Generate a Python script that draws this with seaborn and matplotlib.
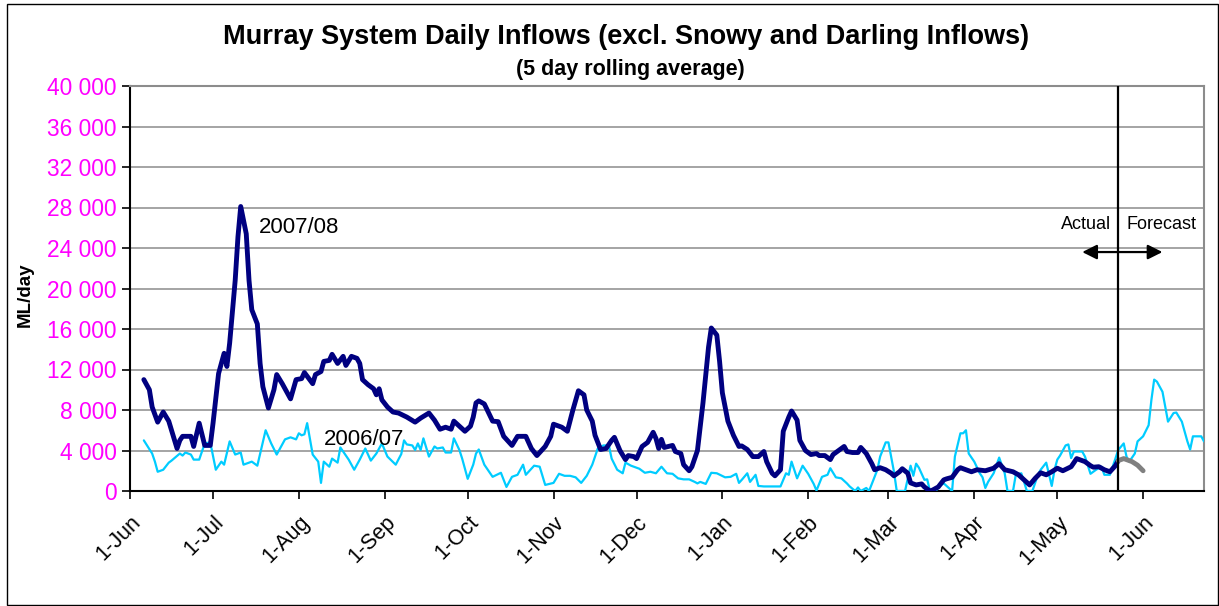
import numpy as np
import pandas as pd
import matplotlib
matplotlib.use("Agg")
import matplotlib.pyplot as plt
import matplotlib.dates as mdates
import seaborn as sns

# Murray System daily inflows - 5 day rolling average, 2007/08 vs 2006/07
# x positions are days after 1-Jun (both seasons drawn on the same date axis)

START = pd.Timestamp("2007-06-01")

days_0708 = [5, 7, 8, 10, 12, 14, 17, 18, 19, 22, 23, 25, 27, 29, 30, 32, 34, 35, 36, 38,
             39, 40, 42, 43, 44, 46, 47, 48, 50, 52, 53, 55, 58, 60, 62, 63, 66, 67, 69, 70,
             72, 73, 75, 77, 78, 80, 82, 83, 84, 86, 88, 89, 90, 91, 93, 95, 97, 100, 103, 105,
             108, 110, 112, 114, 116, 117, 119, 121, 123, 124, 125, 126, 128, 131, 133, 135, 138, 140, 143, 145,
             147, 150, 152, 153, 156, 158, 160, 162, 164, 165, 167, 168, 170, 172, 174, 175, 177, 179, 180, 182,
             183, 185, 187, 189, 190, 191, 192, 193, 196, 197, 199, 200, 202, 203, 205, 207, 209, 210, 212, 213,
             214, 216, 218, 220, 221, 223, 225, 227, 229, 230, 232, 233, 235, 236, 238, 239, 241, 242, 244, 246,
             248, 249, 251, 253, 254, 256, 258, 259, 261, 263, 264, 266, 268, 269, 271, 273, 275, 276, 278, 279,
             281, 282, 284, 286, 287, 289, 290, 292, 294, 295, 297, 299, 300, 302, 304, 306, 309, 312, 314, 316,
             319, 321, 323, 325, 327, 329, 331, 333, 335, 337, 340, 342, 345, 347, 348, 350, 352, 354, 356, 357]
flow_0708 = [11000, 10000, 8300, 6800, 7800, 6900, 4200, 5000, 5400, 5400, 4400, 6700, 4500, 4500, 6700, 11600, 13600, 12300, 14600, 20800,
             25100, 28100, 25400, 20800, 17900, 16500, 12600, 10300, 8200, 10000, 11500, 10600, 9100, 11000, 11100, 11700, 10600, 11500, 11800, 12800,
             12900, 13500, 12600, 13300, 12400, 13300, 13100, 12600, 11000, 10500, 10100, 9500, 10100, 9000, 8300, 7800, 7700, 7300, 6800, 7200,
             7700, 7000, 6100, 6300, 6100, 6900, 6400, 5900, 6400, 7300, 8700, 8900, 8600, 6900, 6850, 5400, 4500, 5400, 5400, 4200,
             3500, 4400, 5400, 6600, 6300, 5900, 8000, 9900, 9500, 8000, 6900, 5500, 4100, 4200, 5000, 5300, 4000, 3100, 3500, 3400,
             3200, 4400, 4800, 5800, 5200, 4200, 5100, 4300, 4500, 3900, 3700, 2600, 2000, 2400, 4000, 8700, 14200, 16100, 15400, 12800,
             9700, 6900, 5500, 4400, 4450, 4100, 3400, 3400, 3900, 2900, 1750, 1500, 2100, 5900, 7300, 7900, 7000, 5000, 4000, 3600,
             3700, 3500, 3500, 3100, 3600, 4000, 4400, 3900, 3800, 3800, 4300, 3700, 2700, 2100, 2300, 2100, 1750, 1500, 1900, 2200,
             1750, 800, 600, 700, 400, 0, 100, 400, 1100, 1200, 1350, 2100, 2300, 2100, 1900, 2100, 2000, 2250, 2700, 2100,
             1900, 1600, 1100, 600, 1250, 1800, 1600, 1900, 2250, 2000, 2400, 3200, 2900, 2500, 2350, 2400, 2100, 1900, 2500, 3000]

# forecast tail of 2007/08 (grey)
days_fcst = [357, 359, 362, 364, 366]
flow_fcst = [3000, 3200, 2900, 2550, 2000]

days_0607 = [5, 8, 9, 10, 12, 14, 15, 18, 19, 20, 22, 23, 25, 27, 29, 31, 33, 34, 36, 38,
             40, 41, 44, 46, 49, 51, 53, 56, 58, 60, 61, 62, 63, 64, 66, 68, 69, 70, 72, 73,
             75, 76, 79, 81, 83, 85, 87, 89, 91, 93, 96, 98, 99, 100, 102, 103, 104, 105, 106, 108,
             110, 111, 113, 114, 116, 117, 119, 120, 122, 124, 125, 126, 128, 131, 134, 136, 138, 140, 142, 143,
             146, 148, 150, 153, 155, 157, 159, 161, 163, 165, 167, 169, 171, 173, 174, 176, 178, 179, 181, 184,
             186, 188, 190, 192, 194, 196, 198, 200, 202, 204, 205, 206, 208, 210, 212, 215, 217, 219, 220, 221,
             223, 224, 226, 227, 229, 235, 237, 238, 239, 241, 243, 245, 247, 248, 250, 252, 253, 255, 257, 259,
             260, 262, 263, 264, 266, 267, 270, 271, 273, 274, 276, 277, 280, 282, 283, 284, 285, 287, 288, 289,
             291, 293, 294, 297, 298, 300, 301, 302, 303, 305, 307, 308, 309, 310, 312, 314, 316, 317, 319, 320,
             322, 323, 324, 326, 328, 329, 331, 333, 334, 335, 336, 338, 339, 340, 341, 344, 345, 347, 349, 351,
             352, 354, 356, 357, 359, 360, 361, 363, 364, 366, 368, 369, 370, 371, 373, 375, 377, 378, 380, 382,
             383, 384, 387, 388]
flow_0607 = [5000, 3700, 2900, 1900, 2100, 2800, 3000, 3700, 3500, 3800, 3600, 3100, 3100, 4700, 4800, 2100, 2900, 2600, 4900, 3600,
             3800, 2600, 2900, 2500, 6000, 4700, 3600, 5100, 5300, 5100, 5700, 5500, 5600, 6700, 3600, 2900, 800, 2900, 2400, 3200,
             2800, 4300, 3100, 2100, 3100, 4200, 3000, 3700, 4700, 3400, 2600, 3650, 5000, 4600, 4500, 4050, 4700, 4050, 5200, 3400,
             4400, 4200, 4300, 3800, 3800, 5200, 4050, 3200, 1200, 2600, 3700, 4100, 2600, 1400, 1800, 400, 1400, 1600, 2600, 1600,
             2500, 2400, 600, 800, 1700, 1500, 1500, 1350, 800, 1500, 2600, 4200, 4500, 4500, 3200, 2100, 1750, 2800, 2500, 2200,
             1800, 1900, 1750, 2400, 1750, 1700, 1250, 1150, 1150, 900, 750, 900, 700, 1800, 1750, 1350, 1400, 1700, 800, 1100,
             1750, 900, 1600, 500, 450, 450, 1750, 1600, 2900, 1250, 2500, 1700, 700, 50, 1400, 1600, 2250, 1350, 1250, 750,
             450, 0, 350, 0, 300, 0, 2100, 3400, 4800, 4800, 1900, 0, 0, 2500, 1500, 2700, 2300, 1100, 1150, 0,
             0, 600, 750, 0, 3400, 5700, 5700, 6000, 3700, 2900, 1750, 1350, 300, 900, 1750, 3300, 1750, 0, 0, 1600,
             1750, 900, 0, 0, 1600, 2100, 2800, 500, 2100, 3100, 3500, 4500, 4600, 3250, 3900, 3900, 3400, 1700, 2100, 2400,
             1600, 1600, 3200, 4050, 4700, 3400, 2900, 3700, 4900, 5400, 6500, 9000, 11000, 10800, 9800, 6850, 7700, 7750, 6850, 4900,
             4100, 5400, 5400, 4900]

month_labels = ["1-Jun", "1-Jul", "1-Aug", "1-Sep", "1-Oct", "1-Nov", "1-Dec",
                "1-Jan", "1-Feb", "1-Mar", "1-Apr", "1-May", "1-Jun"]
y_ticks = [0, 4000, 8000, 12000, 16000, 20000, 24000, 28000, 32000, 36000, 40000]
split_day = 357
x_end_day = 388


def to_dates(days):
    return START + pd.to_timedelta(days, unit="D")


df_0708 = pd.DataFrame({"date": to_dates(days_0708), "flow": flow_0708})
df_fcst = pd.DataFrame({"date": to_dates(days_fcst), "flow": flow_fcst})
df_0607 = pd.DataFrame({"date": to_dates(days_0607), "flow": flow_0607})

sns.set_theme(style="white")
plt.rcParams["font.family"] = ["Liberation Sans", "DejaVu Sans"]
plt.rcParams["text.color"] = "black"
plt.rcParams["xtick.color"] = "black"
plt.rcParams["ytick.color"] = "black"

fig = plt.figure(figsize=(12.19, 6.06), dpi=100)
ax = fig.add_axes([130 / 1219, 1 - 491 / 606, (1204 - 130) / 1219, (491 - 86) / 606])

sns.lineplot(data=df_0607, x="date", y="flow", ax=ax, color="#00CCFF", linewidth=1.6,
             estimator=None, zorder=3)
sns.lineplot(data=df_0708, x="date", y="flow", ax=ax, color="#000080", linewidth=3.5,
             estimator=None, zorder=4)
sns.lineplot(data=df_fcst, x="date", y="flow", ax=ax, color="#808080", linewidth=3.5,
             estimator=None, zorder=4)

# axes
ax.set_xlim(START, START + pd.Timedelta(days=x_end_day))
ax.set_ylim(0, 40000)
ax.set_yticks(y_ticks)
ax.set_yticklabels([f"{v:,}".replace(",", " ") for v in y_ticks], color="#FF00FF", fontsize=16.4)
ax.yaxis.grid(True, color="#8c8c8c", linewidth=1.1)
ax.set_axisbelow(True)

tick_dates = pd.date_range(START, periods=len(month_labels), freq="MS")
ax.set_xticks(tick_dates)
ax.set_xticklabels(month_labels, rotation=45, ha="right", rotation_mode="anchor",
                   fontsize=15.5, color="black")
ax.tick_params(axis="both", direction="out", length=6, width=1.2, color="black", bottom=True, left=True)
ax.tick_params(axis="x", pad=9)
ax.set_xlabel("")
ax.set_ylabel("")

for side in ["left", "bottom"]:
    ax.spines[side].set_color("black")
    ax.spines[side].set_linewidth(1.5)
for side in ["top", "right"]:
    ax.spines[side].set_color("#8c8c8c")
    ax.spines[side].set_linewidth(1.5)

# actual / forecast divider
split_date = START + pd.Timedelta(days=split_day)
ax.axvline(split_date, color="black", linewidth=1.6, zorder=5)
ax.annotate("", xy=(START + pd.Timedelta(days=343), 23600),
            xytext=(START + pd.Timedelta(days=374), 23600),
            arrowprops=dict(arrowstyle="<|-|>", color="black", lw=1.6, mutation_scale=22))
ax.text(START + pd.Timedelta(days=354.5), 26300, "Actual", ha="right", va="center", fontsize=13)
ax.text(START + pd.Timedelta(days=360), 26300, "Forecast", ha="left", va="center", fontsize=13)

ax.text(START + pd.Timedelta(days=46.5), 26000, "2007/08", ha="left", va="center", fontsize=16)
ax.text(START + pd.Timedelta(days=70), 5100, "2006/07", ha="left", va="center", fontsize=16)

fig.text(626 / 1219, 1 - 37 / 606, "Murray System Daily Inflows (excl. Snowy and Darling Inflows)",
         ha="center", va="center", fontsize=19.5, fontweight="bold")
fig.text(630 / 1219, 1 - 70 / 606, "(5 day rolling average)",
         ha="center", va="center", fontsize=15.5, fontweight="bold")
fig.text(25 / 1219, 1 - 295 / 606, "ML/day", rotation=90, ha="center", va="center",
         fontsize=13.5, fontweight="bold")

# outer chart border
fig.patches.append(plt.Rectangle((7 / 1219, 0.002), 1 - 7 / 1219 - 0.001, 1 - 4 / 606 - 0.002,
                                 transform=fig.transFigure, fill=False, edgecolor="black", linewidth=1.0))

fig.savefig("out.png", dpi=100)
